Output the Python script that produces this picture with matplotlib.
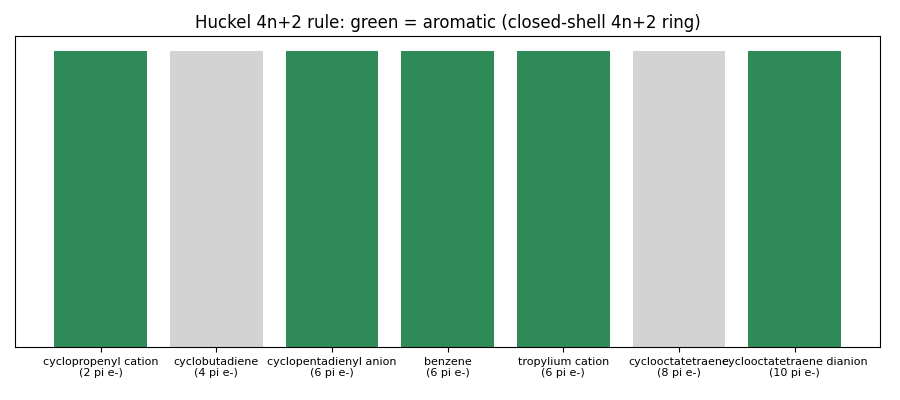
import matplotlib
matplotlib.use("Agg")
import matplotlib.pyplot as plt

species = ["cyclopropenyl cation", "cyclobutadiene", "cyclopentadienyl anion",
           "benzene", "tropylium cation", "cyclooctatetraene",
           "cyclooctatetraene dianion"]
pi_electrons = [2, 4, 6, 6, 6, 8, 10]
aromatic = [True, False, True, True, True, False, True]
heights = [1, 1, 1, 1, 1, 1, 1]

labels = [f"{s}\n({n} pi e-)" for s, n in zip(species, pi_electrons)]
colors = ["seagreen" if a else "lightgray" for a in aromatic]

fig, ax = plt.subplots(figsize=(9, 4), dpi=100)
ax.bar(range(len(species)), heights, color=colors, width=0.8)
ax.set_xticks(range(len(species)))
ax.set_xticklabels(labels, fontsize=8)
ax.set_yticks([])
ax.set_title("Huckel 4n+2 rule: green = aromatic (closed-shell 4n+2 ring)")
fig.subplots_adjust(left=0.0167, right=0.978, bottom=0.1325, top=0.91)
fig.savefig("out.png", dpi=100)
